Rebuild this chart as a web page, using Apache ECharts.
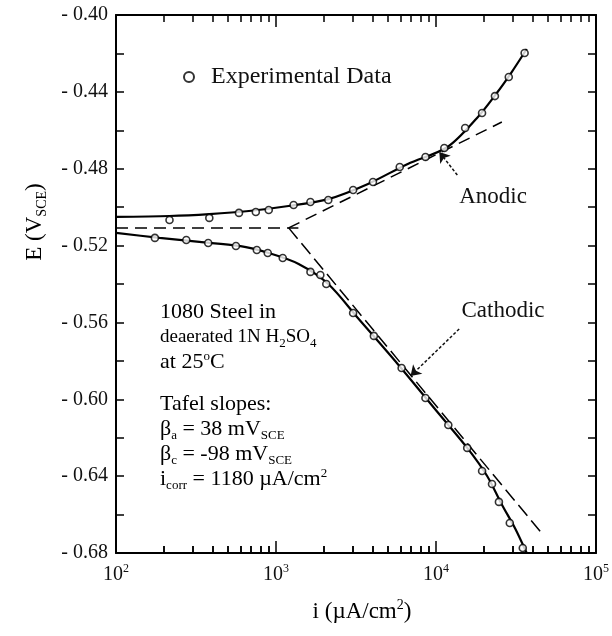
<!DOCTYPE html>
<html>
<head>
<meta charset="utf-8">
<script src="https://cdn.jsdelivr.net/npm/echarts@6/dist/echarts.min.js"></script>
<style>
    html, body { margin: 0; padding: 0; background: #fff; }
    #chart { width: 612px; height: 636px; }
</style>
</head>
<body>
<div id="chart"></div>
<script>
    // experimental points, i in uA/cm2, E in V(SCE)
    const anodicI = [216, 383, 587, 748, 901, 1288, 1641, 2122, 3034, 4037, 5934, 8597, 11270, 15210, 19400, 23350, 28500, 35800];
    const anodicE = [-0.5067, -0.5056, -0.5030, -0.5025, -0.5015, -0.4989, -0.4973, -0.4963, -0.4911, -0.4869, -0.4791, -0.4739, -0.4692, -0.4588, -0.4510, -0.4422, -0.4323, -0.4198];
    const cathodicI = [175, 275, 377, 562, 759, 888, 1102, 1642, 1893, 2062, 3033, 4090, 6097, 8590, 11940, 15670, 19410, 22390, 24730, 28920, 34860];
    const cathodicE = [-0.5160, -0.5171, -0.5187, -0.5202, -0.5223, -0.5239, -0.5265, -0.5337, -0.5353, -0.5400, -0.5551, -0.5670, -0.5837, -0.5993, -0.6134, -0.6253, -0.6373, -0.6441, -0.6534, -0.6644, -0.6774];

    // fitted curves
    const anodicFitI = [100, 216, 383, 677, 1197, 2122, 3758, 6660, 11800, 18050, 23990, 29730, 36900];
    const anodicFitE = [-0.5051, -0.5046, -0.5036, -0.5020, -0.4994, -0.4958, -0.4879, -0.4775, -0.4687, -0.4536, -0.4406, -0.4297, -0.4177];
    const cathodicFitI = [100, 187, 332, 588, 901, 1385, 2122, 3249, 5760, 10210, 15680, 20870, 25880, 31130, 36890];
    const cathodicFitE = [-0.5134, -0.5160, -0.5181, -0.5202, -0.5239, -0.5296, -0.5400, -0.5577, -0.5816, -0.6066, -0.6253, -0.6399, -0.6550, -0.6670, -0.6800];

    // Tafel extrapolations
    const ecorrI = [100, 1380];
    const ecorrE = [-0.5108, -0.5108];
    const tafelAI = [1200, 25800];
    const tafelAE = [-0.5108, -0.4557];
    const tafelCI = [1200, 45700];
    const tafelCE = [-0.5108, -0.6696];

    const xMin = 100, xMax = 100000;
    const yMin = -0.68, yMax = -0.40;

    // minor tick values of the log axis (bottom ones are drawn as markLines)
    const minorTicks = [];
    [100, 1000, 10000].forEach(function (d) {
        for (let k = 2; k <= 9; k++) minorTicks.push(d * k);
    });
    const tickLo = yMin + 0.0002, tickHi = yMin + 0.0036;

    const serif = 'Liberation Serif';
    const pair = (xs, ys) => xs.map((x, i) => [x, ys[i]]);

    const richText = {
        n: { fontFamily: serif, fontSize: 22, lineHeight: 25, color: '#111' },
        s: { fontFamily: serif, fontSize: 19, lineHeight: 25, color: '#111' },
        sub: { fontFamily: serif, fontSize: 13, lineHeight: 25, verticalAlign: 'bottom', color: '#111' },
        sup: { fontFamily: serif, fontSize: 13, lineHeight: 25, verticalAlign: 'top', color: '#111' },
        t: { fontFamily: serif, fontSize: 23, lineHeight: 28, color: '#111' },
        tsub: { fontFamily: serif, fontSize: 14, lineHeight: 28, verticalAlign: 'bottom', color: '#111' },
        tsup: { fontFamily: serif, fontSize: 14, lineHeight: 28, verticalAlign: 'top', color: '#111' }
    };

    const minorTick = { show: true, splitNumber: 9, length: 7, lineStyle: { color: '#000', width: 1.5 } };

    const chart = echarts.init(document.getElementById('chart'));
    const option = {
        animation: false,
        backgroundColor: '#fff',
        grid: { left: 116, right: 12, top: 15, bottom: 83 },
        legend: {
            data: ['Experimental Data'],
            left: 178,
            top: 60,
            itemWidth: 10,
            itemHeight: 10,
            textStyle: { fontFamily: serif, fontSize: 24, color: '#111', padding: [0, 0, 0, 12] }
        },
        xAxis: [
            {
                // mirror frame on top, carries the series
                type: 'log',
                logBase: 10,
                min: xMin,
                max: xMax,
                position: 'top',
                splitLine: { show: false },
                axisLine: { lineStyle: { color: '#000', width: 2 } },
                axisTick: { inside: true, length: 12, lineStyle: { color: '#000', width: 1.5 } },
                minorTick: minorTick,
                axisLabel: { show: false }
            },
            {
                type: 'log',
                logBase: 10,
                min: xMin,
                max: xMax,
                position: 'bottom',
                axisLine: { onZero: false, lineStyle: { color: '#000', width: 2 } },
                splitLine: { show: false },
                axisTick: { inside: true, length: 12, lineStyle: { color: '#000', width: 1.5 } },
                minorTick: minorTick,
                axisLabel: {
                    margin: 10,
                    formatter: function (v) {
                        return '{b|10}{p|' + Math.round(Math.log10(v)) + '}';
                    },
                    rich: {
                        b: { fontFamily: serif, fontSize: 20, lineHeight: 24, color: '#111' },
                        p: { fontFamily: serif, fontSize: 12, lineHeight: 24, verticalAlign: 'top', color: '#111' }
                    }
                }
            }
        ],
        yAxis: [
            {
                type: 'value',
                min: yMin,
                max: yMax,
                interval: 0.02,
                splitLine: { show: false },
                axisLine: { lineStyle: { color: '#000', width: 2 } },
                axisTick: { inside: true, length: 8, lineStyle: { color: '#000', width: 1.5 } },
                axisLabel: {
                    margin: 8,
                    fontFamily: serif,
                    fontSize: 20,
                    color: '#111',
                    formatter: function (v) {
                        return Math.round(v * 100) % 4 === 0 ? '- ' + Math.abs(v).toFixed(2) : '';
                    }
                }
            },
            {
                type: 'value',
                min: yMin,
                max: yMax,
                interval: 0.02,
                position: 'right',
                splitLine: { show: false },
                axisLine: { lineStyle: { color: '#000', width: 2 } },
                axisTick: { inside: true, length: 8, lineStyle: { color: '#000', width: 1.5 } },
                axisLabel: { show: false }
            }
        ],
        series: [
            {
                name: 'anodic fit',
                type: 'line',
                smooth: 0.3,
                symbol: 'none',
                lineStyle: { color: '#000', width: 2.2 },
                data: pair(anodicFitI, anodicFitE),
                markLine: {
                    silent: true,
                    symbol: ['none', 'arrow'],
                    symbolSize: 10,
                    label: { show: false },
                    lineStyle: { color: '#111', width: 1.5, type: [3, 2] },
                    data: [
                        [{ coord: [13590, -0.4833] }, { coord: [10490, -0.4713] }],
                        [{ coord: [13960, -0.5634] }, { coord: [6934, -0.5879] }]
                    ]
                }
            },
            {
                name: 'cathodic fit',
                type: 'line',
                smooth: 0.3,
                symbol: 'none',
                lineStyle: { color: '#000', width: 2.2 },
                data: pair(cathodicFitI, cathodicFitE),
                markLine: {
                    silent: true,
                    symbol: ['none', 'none'],
                    label: { show: false },
                    lineStyle: { color: '#000', width: 1.5, type: 'solid' },
                    data: minorTicks.map(v => [{ coord: [v, tickLo] }, { coord: [v, tickHi] }])
                }
            },
            {
                name: 'Ecorr',
                type: 'line',
                symbol: 'none',
                lineStyle: { color: '#000', width: 1.5, type: [12, 7] },
                data: pair(ecorrI, ecorrE)
            },
            {
                name: 'anodic Tafel',
                type: 'line',
                symbol: 'none',
                lineStyle: { color: '#000', width: 1.5, type: [12, 7] },
                data: pair(tafelAI, tafelAE)
            },
            {
                name: 'cathodic Tafel',
                type: 'line',
                symbol: 'none',
                lineStyle: { color: '#000', width: 1.5, type: [14, 6] },
                data: pair(tafelCI, tafelCE)
            },
            {
                name: 'Experimental Data',
                type: 'scatter',
                symbol: 'circle',
                symbolSize: 7,
                z: 5,
                itemStyle: { color: '#fff', borderColor: '#000', borderWidth: 1.6 },
                data: pair(anodicI, anodicE)
            },
            {
                name: 'Experimental Data',
                type: 'scatter',
                symbol: 'circle',
                symbolSize: 7,
                z: 5,
                itemStyle: { color: '#fff', borderColor: '#000', borderWidth: 1.6 },
                data: pair(cathodicI, cathodicE)
            }
        ],
        graphic: [
            {
                type: 'text', x: 35, y: 222, rotation: Math.PI / 2,
                style: { text: '{t|E (V}{tsub|SCE}{t|)}', rich: richText, align: 'center', verticalAlign: 'middle' }
            },
            {
                type: 'text', x: 362, y: 612,
                style: { text: '{t|i (µA/cm}{tsup|2}{t|)}', rich: richText, align: 'center', verticalAlign: 'middle' }
            },
            {
                type: 'text', x: 493, y: 197,
                style: { text: 'Anodic', fontFamily: serif, fontSize: 23, fill: '#111', align: 'center', verticalAlign: 'middle' }
            },
            {
                type: 'text', x: 503, y: 311,
                style: { text: 'Cathodic', fontFamily: serif, fontSize: 23, fill: '#111', align: 'center', verticalAlign: 'middle' }
            },
            {
                type: 'text', x: 160, y: 300,
                style: {
                    text: '{n|1080 Steel in}\n{s|deaerated 1N H}{sub|2}{s|SO}{sub|4}\n{n|at 25}{sup|o}{n|C}',
                    rich: richText
                }
            },
            {
                type: 'text', x: 160, y: 392,
                style: {
                    text: '{n|Tafel slopes:}\n{n|β}{sub|a}{n| = 38 mV}{sub|SCE}\n{n|β}{sub|c}{n| = -98 mV}{sub|SCE}\n{n|i}{sub|corr}{n| = 1180 µA/cm}{sup|2}',
                    rich: richText
                }
            }
        ]
    };
    chart.setOption(option);
    window.addEventListener('resize', function () {
        chart.resize();
    });
</script>
</body>
</html>
